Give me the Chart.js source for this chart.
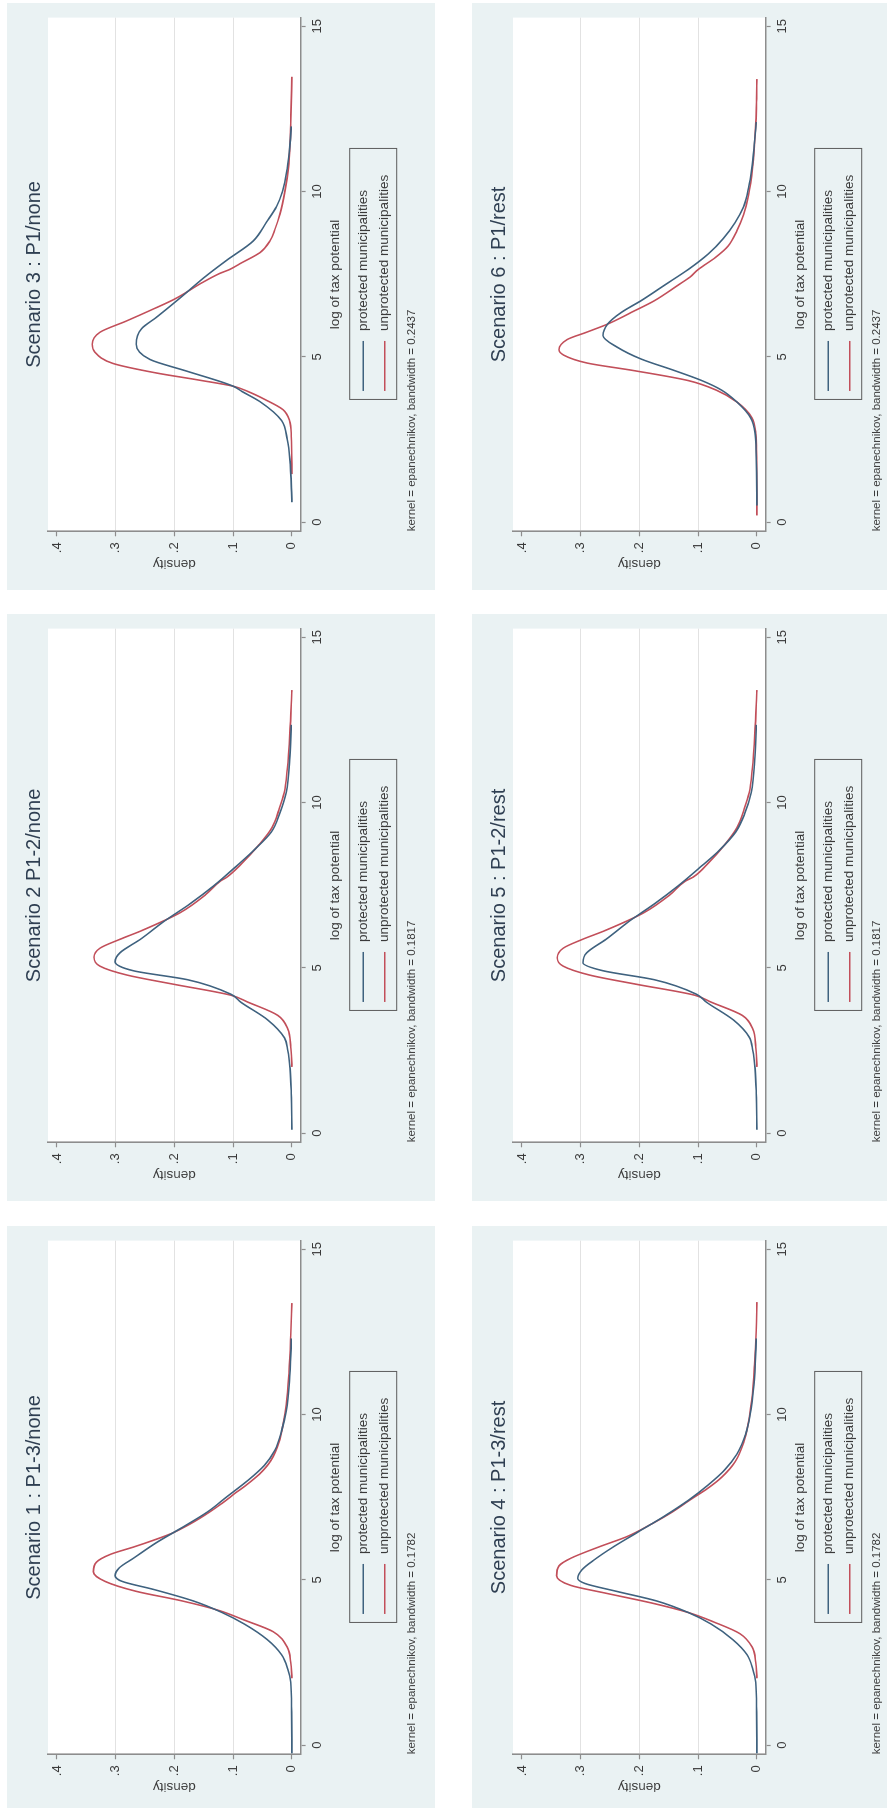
<!DOCTYPE html>
<html>
<head>
<meta charset="utf-8">
<title>Kernel densities of log tax potential by scenario</title>
<script src="https://cdn.jsdelivr.net/npm/chart.js@4.4.1/dist/chart.umd.min.js"></script>
<style>
  html, body { margin: 0; padding: 0; background: #fff; width: 887px; height: 1808px; overflow: hidden; }
  .panel { position: absolute; width: 428px; height: 587px; background: #eaf2f3; overflow: hidden; }
  /* each Stata graph is drawn upright, then turned a quarter left like the scan */
  .frame { position: absolute; left: 0; top: 0; width: 587px; height: 428px;
           transform-origin: 0 0; transform: translate(0, 587px) rotate(-90deg); }
</style>
</head>
<body>
<script>
// Axis ticks and labels
const xTicks = [0, 5, 10, 15];
const yTicks = [0, 0.1, 0.2, 0.3, 0.4];
const seriesLabels = ['protected municipalities', 'unprotected municipalities'];

// Scenario 1 : P1-3/none
const s1ProtX = [-0.25, 1.0, 1.9, 2.3, 2.73, 3.19, 3.66, 4.01, 4.36, 4.71, 4.95, 5.12, 5.36, 5.65, 6.12, 6.58, 7.05, 7.52, 7.99, 8.46, 8.92, 9.51, 10.1, 11.0, 12.3];
const s1ProtY = [0, 0.0005, 0.002, 0.007, 0.0175, 0.042, 0.081, 0.119, 0.168, 0.236, 0.289, 0.301, 0.294, 0.27, 0.231, 0.187, 0.144, 0.11, 0.076, 0.047, 0.029, 0.0175, 0.0097, 0.004, 0.001];
const s1UnprX = [2.02, 2.5, 2.96, 3.43, 3.78, 4.07, 4.36, 4.65, 4.95, 5.24, 5.53, 5.77, 6.0, 6.2, 6.4, 6.7, 7.05, 7.3, 7.46, 7.6, 7.9, 8.2, 8.6, 9.16, 9.74, 10.3, 11.3, 12.4, 13.37];
const s1UnprY = [0, 0.002, 0.008, 0.032, 0.081, 0.124, 0.187, 0.265, 0.318, 0.338, 0.333, 0.309, 0.268, 0.235, 0.205, 0.172, 0.14, 0.12, 0.108, 0.098, 0.075, 0.055, 0.036, 0.022, 0.0146, 0.0095, 0.005, 0.002, 0];

// Scenario 2 P1-2/none
const s2ProtX = [0.1, 1.2, 1.94, 2.5, 2.88, 3.42, 3.96, 4.2, 4.64, 4.91, 5.18, 5.45, 5.86, 6.4, 6.94, 7.48, 8.02, 8.57, 9.11, 9.65, 10.3, 11.4, 12.35];
const s2ProtY = [0, 0.001, 0.003, 0.007, 0.0126, 0.041, 0.087, 0.104, 0.178, 0.27, 0.301, 0.293, 0.258, 0.218, 0.173, 0.133, 0.098, 0.064, 0.035, 0.021, 0.0097, 0.0034, 0.001];
const s2UnprX = [2.0, 2.6, 3.15, 3.56, 3.96, 4.17, 4.5, 4.78, 5.05, 5.32, 5.59, 5.86, 6.13, 6.67, 7.21, 7.62, 7.75, 8.16, 8.7, 9.24, 9.78, 10.3, 11.0, 12.1, 13.4];
const s2UnprY = [0, 0.002, 0.007, 0.024, 0.075, 0.104, 0.201, 0.281, 0.327, 0.337, 0.327, 0.293, 0.255, 0.19, 0.147, 0.122, 0.11, 0.085, 0.057, 0.034, 0.022, 0.013, 0.008, 0.0034, 0];

// Scenario 3 : P1/none
const s3ProtX = [0.6, 1.9, 2.5, 3.07, 3.65, 3.95, 4.11, 4.57, 4.92, 5.38, 5.85, 6.19, 6.77, 7.46, 7.92, 8.5, 9.08, 9.55, 10.0, 10.7, 11.4, 11.97];
const s3ProtY = [0, 0.0034, 0.008, 0.0176, 0.055, 0.085, 0.1, 0.18, 0.242, 0.265, 0.256, 0.231, 0.191, 0.145, 0.111, 0.066, 0.043, 0.026, 0.016, 0.008, 0.0034, 0.001];
const s3UnprX = [1.45, 2.6, 3.07, 3.4, 3.7, 3.95, 4.11, 4.3, 4.51, 4.8, 5.15, 5.38, 5.74, 6.08, 6.42, 6.77, 7.23, 7.52, 7.64, 7.81, 8.15, 8.5, 8.85, 9.31, 10.0, 10.7, 11.5, 12.3, 13.47];
const s3UnprY = [0, 0.001, 0.004, 0.015, 0.045, 0.075, 0.1, 0.16, 0.231, 0.305, 0.336, 0.34, 0.327, 0.282, 0.239, 0.197, 0.154, 0.123, 0.106, 0.089, 0.0545, 0.0375, 0.029, 0.0205, 0.012, 0.006, 0.003, 0.0017, 0];

// Scenario 4 : P1-3/rest
const s4ProtX = [-0.25, 1.0, 1.9, 2.3, 2.73, 3.19, 3.66, 4.01, 4.36, 4.65, 4.89, 5.04, 5.3, 5.59, 6.0, 6.47, 6.94, 7.4, 7.87, 8.34, 8.8, 9.39, 9.98, 10.9, 12.3];
const s4ProtY = [0, 0.0005, 0.002, 0.007, 0.0166, 0.041, 0.078, 0.117, 0.171, 0.239, 0.293, 0.305, 0.298, 0.278, 0.244, 0.2, 0.156, 0.117, 0.083, 0.054, 0.034, 0.0195, 0.0117, 0.005, 0.001];
const s4UnprX = [2.02, 2.5, 2.96, 3.37, 3.72, 4.01, 4.3, 4.6, 4.83, 5.12, 5.42, 5.65, 6.0, 6.3, 6.7, 7.05, 7.29, 7.46, 7.75, 8.1, 8.57, 9.16, 9.74, 10.44, 11.5, 12.55, 13.4];
const s4UnprY = [0, 0.002, 0.008, 0.029, 0.073, 0.117, 0.18, 0.259, 0.317, 0.341, 0.337, 0.317, 0.268, 0.222, 0.178, 0.144, 0.124, 0.11, 0.085, 0.06, 0.037, 0.0224, 0.0146, 0.0088, 0.004, 0.001, 0];

// Scenario 5 : P1-2/rest
const s5ProtX = [0.1, 1.2, 1.94, 2.5, 2.9, 3.42, 3.96, 4.2, 4.64, 4.91, 5.15, 5.45, 5.86, 6.4, 6.94, 7.48, 8.02, 8.57, 9.11, 9.65, 10.3, 11.4, 12.35];
const s5ProtY = [0, 0.001, 0.003, 0.007, 0.013, 0.04, 0.086, 0.103, 0.175, 0.262, 0.296, 0.29, 0.257, 0.218, 0.174, 0.134, 0.098, 0.063, 0.036, 0.021, 0.0095, 0.0033, 0.001];
const s5UnprX = [2.0, 2.6, 3.15, 3.56, 3.96, 4.17, 4.5, 4.78, 5.05, 5.3, 5.59, 5.86, 6.13, 6.67, 7.21, 7.62, 7.75, 8.16, 8.7, 9.24, 9.78, 10.3, 11.0, 12.1, 13.4];
const s5UnprY = [0, 0.002, 0.007, 0.025, 0.078, 0.106, 0.205, 0.285, 0.33, 0.34, 0.33, 0.297, 0.258, 0.192, 0.148, 0.122, 0.108, 0.083, 0.056, 0.034, 0.022, 0.013, 0.008, 0.0034, 0];

// Scenario 6 : P1/rest
const s6ProtX = [0.5, 1.5, 2.2, 2.69, 3.16, 3.63, 3.99, 4.28, 4.58, 4.93, 5.28, 5.64, 5.99, 6.34, 6.7, 7.17, 7.64, 8.11, 8.58, 9.06, 9.53, 10.1, 10.7, 11.5, 12.1];
const s6ProtY = [0, 0.0005, 0.0015, 0.003, 0.011, 0.034, 0.06, 0.094, 0.14, 0.197, 0.237, 0.262, 0.254, 0.231, 0.197, 0.157, 0.117, 0.083, 0.057, 0.037, 0.023, 0.0143, 0.0086, 0.004, 0.001];
const s6UnprX = [0.2, 1.5, 2.2, 2.69, 3.16, 3.63, 3.99, 4.28, 4.58, 4.81, 5.05, 5.22, 5.52, 5.75, 5.99, 6.34, 6.7, 7.17, 7.41, 7.64, 8.0, 8.35, 8.82, 9.29, 9.88, 10.7, 12.1, 12.8, 13.4];
const s6UnprY = [0, 0.0003, 0.0008, 0.002, 0.0086, 0.034, 0.069, 0.117, 0.209, 0.289, 0.329, 0.337, 0.323, 0.289, 0.254, 0.214, 0.174, 0.134, 0.114, 0.1, 0.071, 0.049, 0.034, 0.023, 0.0143, 0.0074, 0.0017, 0.0005, 0];

// Colours and fonts
const BLUE = '#3f627f';
const RED = '#c24f5a';
const AXIS = '#8d8d8d';
const GRID = '#e2e2e2';
const TEXT = '#3a3a3a';
const TITLE = '#2f3f52';
const FONT = "'Liberation Sans', Arial, sans-serif";

// Panels as they sit on the page (left column 3,2,1 ; right column 6,5,4)
const panels = [
  { title: 'Scenario 3 : P1/none',   bw: '0.2437', left: 7,   top: 3,    px: s3ProtX, py: s3ProtY, ux: s3UnprX, uy: s3UnprY },
  { title: 'Scenario 2 P1-2/none',   bw: '0.1817', left: 7,   top: 614,  px: s2ProtX, py: s2ProtY, ux: s2UnprX, uy: s2UnprY },
  { title: 'Scenario 1 : P1-3/none', bw: '0.1782', left: 7,   top: 1226, px: s1ProtX, py: s1ProtY, ux: s1UnprX, uy: s1UnprY },
  { title: 'Scenario 6 : P1/rest',   bw: '0.2437', left: 472, top: 3,    px: s6ProtX, py: s6ProtY, ux: s6UnprX, uy: s6UnprY },
  { title: 'Scenario 5 : P1-2/rest', bw: '0.1817', left: 472, top: 614,  px: s5ProtX, py: s5ProtY, ux: s5UnprX, uy: s5UnprY },
  { title: 'Scenario 4 : P1-3/rest', bw: '0.1782', left: 472, top: 1226, px: s4ProtX, py: s4ProtY, ux: s4UnprX, uy: s4UnprY }
];

function toPoints(xs, ys) {
  return xs.map((x, i) => ({ x: x, y: ys[i] }));
}

// White plot region like Stata's plotregion
const plotBackground = {
  id: 'plotBackground',
  beforeDraw(chart) {
    const { ctx, chartArea } = chart;
    ctx.save();
    ctx.fillStyle = '#ffffff';
    ctx.fillRect(chartArea.left, chartArea.top, chartArea.right - chartArea.left, chartArea.bottom - chartArea.top);
    ctx.restore();
  }
};

// Stata style boxed legend, two rows under the x axis title
const legendBox = {
  id: 'legendBox',
  afterDraw(chart) {
    const { ctx, chartArea, scales } = chart;
    const w = 251, h = 47;
    const left = (chartArea.left + chartArea.right) / 2 - w / 2;
    const top = scales.x.bottom + 2;
    ctx.save();
    ctx.strokeStyle = '#5c5c5c';
    ctx.lineWidth = 1;
    ctx.strokeRect(left + 0.5, top + 0.5, w, h);
    ctx.font = '13.5px ' + FONT;
    ctx.textBaseline = 'middle';
    chart.data.datasets.forEach((ds, i) => {
      const y = top + 14 + i * 21.5;
      ctx.strokeStyle = ds.borderColor;
      ctx.lineWidth = 1.5;
      ctx.beginPath();
      ctx.moveTo(left + 9, y);
      ctx.lineTo(left + 59, y);
      ctx.stroke();
      ctx.fillStyle = TEXT;
      ctx.fillText(ds.label, left + 69, y);
    });
    ctx.restore();
  }
};

function makeChart(canvas, p) {
  return new Chart(canvas, {
    type: 'line',
    data: {
      datasets: [
        { label: seriesLabels[0], data: toPoints(p.px, p.py), borderColor: BLUE },
        { label: seriesLabels[1], data: toPoints(p.ux, p.uy), borderColor: RED }
      ]
    },
    options: {
      responsive: false,
      animation: false,
      devicePixelRatio: 1,
      layout: { padding: { left: 0, right: 14.6, top: 0, bottom: 0 } },
      elements: {
        point: { radius: 0 },
        line: { borderWidth: 1.6, cubicInterpolationMode: 'monotone', fill: false }
      },
      plugins: {
        legend: { display: false },
        tooltip: { enabled: false },
        title: {
          display: true, text: p.title, fullSize: false, color: TITLE,
          font: { family: FONT, size: 20, weight: 'normal' },
          padding: { top: 15.7, bottom: 1.3 }
        },
        subtitle: {
          display: true, position: 'bottom', align: 'start', fullSize: false,
          text: 'kernel = epanechnikov, bandwidth = ' + p.bw, color: TEXT,
          font: { family: FONT, size: 11.5, weight: 'normal' },
          padding: { top: 57.5, bottom: 16.5 }
        }
      },
      scales: {
        x: {
          type: 'linear', min: -0.28, max: 15.26,
          afterBuildTicks: s => { s.ticks = xTicks.map(v => ({ value: v })); },
          afterFit: s => { s.height = 46.6; },
          grid: { drawOnChartArea: false, tickLength: 5, tickColor: AXIS, tickWidth: 1.2 },
          border: { color: AXIS, width: 1.6 },
          ticks: { color: TEXT, font: { family: FONT, size: 13 }, padding: 4.5, maxRotation: 0,
                   callback: v => String(v) },
          title: { display: true, text: 'log of tax potential', color: TEXT,
                   font: { family: FONT, size: 13.5 }, padding: { top: 0, bottom: 4.2 } }
        },
        y: {
          type: 'linear', min: -0.0148, max: 0.4153,
          afterBuildTicks: s => { s.ticks = yTicks.map(v => ({ value: v })); },
          afterFit: s => { s.width = 58.7; },
          grid: {
            color: c => (c.tick && c.tick.value > 0.05 && c.tick.value < 0.35) ? GRID : 'rgba(0,0,0,0)',
            tickLength: 5, tickColor: AXIS, tickWidth: 1.2
          },
          border: { color: AXIS, width: 1.6 },
          ticks: { color: TEXT, font: { family: FONT, size: 13 }, padding: 6,
                   callback: v => (Math.abs(v) < 1e-9 ? '0' : '.' + Math.round(v * 10)) },
          title: { display: true, text: 'density', color: TEXT,
                   font: { family: FONT, size: 13.5 }, padding: { top: 18.6, bottom: 0 } }
        }
      }
    },
    plugins: [plotBackground, legendBox]
  });
}

panels.forEach(p => {
  const panel = document.createElement('div');
  panel.className = 'panel';
  panel.style.left = p.left + 'px';
  panel.style.top = p.top + 'px';
  const frame = document.createElement('div');
  frame.className = 'frame';
  const canvas = document.createElement('canvas');
  canvas.width = 587;
  canvas.height = 428;
  frame.appendChild(canvas);
  panel.appendChild(frame);
  document.body.appendChild(panel);
  makeChart(canvas, p);
});
</script>
</body>
</html>
